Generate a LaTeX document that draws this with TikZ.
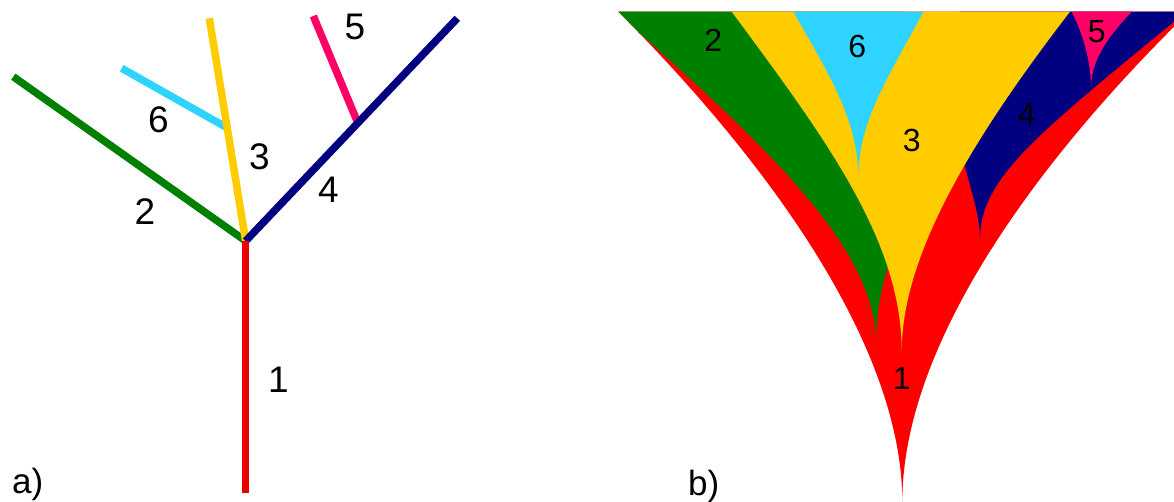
\documentclass[tikz,border=0pt]{standalone}
\usepackage{fontspec}
\setmainfont{Liberation Sans}
\usetikzlibrary{calc}
\definecolor{trunk}{RGB}{234,0,0}
\definecolor{br1}{RGB}{255,0,0}
\definecolor{br2}{RGB}{0,128,0}
\definecolor{br3}{RGB}{255,204,0}
\definecolor{br4}{RGB}{0,0,128}
\definecolor{br5}{RGB}{255,0,102}
\definecolor{br6}{RGB}{46,212,255}

\begin{document}
\begin{tikzpicture}[x=1pt, y=-1pt,
  branch/.style={line width=7.5pt},
  lbl/.style={inner sep=0pt, font=\fontsize{37}{40}\selectfont},
  zone/.style={inner sep=0pt, font=\fontsize{32}{36}\selectfont},
  panel/.style={inner sep=0pt, anchor=base west, font=\fontsize{35}{40}\selectfont}]
  \useasboundingbox (0,0) rectangle (1174,502);

  % a) the branching tree
  \coordinate (fork) at (245.7,241);
  \coordinate (base) at (245.7,493);
  \coordinate (tip2) at (13.3,76.7);
  \coordinate (tip3) at (209.3,18.3);
  \coordinate (tip4) at (457.3,18.3);
  \coordinate (tip5) at (313.3,16);
  \coordinate (tip6) at (121.7,68.3);
  \coordinate (on3) at ($(fork)!0.508!(tip3)$);
  \coordinate (on4) at ($(fork)!0.53!(tip4)$);
  \draw[branch, br6] (tip6) -- (on3);
  \draw[branch, br5] (tip5) -- (on4);
  \draw[branch, br2] (fork) -- (tip2);
  \draw[branch, br3] (fork) -- (tip3);
  \draw[branch, br4] (fork) -- (tip4);
  \draw[branch, trunk] (fork) -- (base);
  \node[lbl] (a1) at (278.3,380) {1};
  \node[lbl] (a2) at (145,211.7) {2};
  \node[lbl] (a3) at (259.3,156.7) {3};
  \node[lbl] (a4) at (328.3,190) {4};
  \node[lbl] (a5) at (355,26.7) {5};
  \node[lbl] (a6) at (158.3,120) {6};
  \node[panel] (pa) at (12,493.3) {a)};

  % b) the nested cusp regions
  \begin{scope}
    \clip (618.3,11.7) .. controls (778,172) and (902.3,352) .. (902.3,502)
      .. controls (902.3,352) and (1024,176.7) .. (1174,26.7)
      -- (1174,11.7) -- cycle;
    \fill[br1] (600,0) rectangle (1174,502);
    % 2
    \fill[br2] (600,0) -- (612,12) -- (641.7,35)
      .. controls (770,150) and (876,250) .. (876,342.7)
      .. controls (877,300) and (883,282) .. (896,240)
      -- (905,0) -- cycle;
    % 4
    \fill[br4] (960,0) -- (955,130) -- (963.3,160)
      .. controls (972,195) and (980,215) .. (980,240)
      .. controls (980,180) and (1030,140) .. (1174,21.7)
      -- (1190,8) -- (1190,0) -- cycle;
    % 3
    \fill[br3] (724,0) -- (731.7,11.7)
      .. controls (828,141.7) and (901.7,241.7) .. (901.7,351.7)
      .. controls (901.7,261.7) and (962,151.7) .. (1070,11.7)
      -- (1075,0) -- cycle;
    % 6
    \fill[br6] (786,0) -- (793.3,11.7)
      .. controls (827.5,71.7) and (858.3,120) .. (858.3,176.7)
      .. controls (858.3,120) and (891.5,71.7) .. (923.3,11.7)
      -- (929,0) -- cycle;
    % 5
    \fill[br5] (1066,0) -- (1071.7,11.7)
      .. controls (1082,32) and (1091,60) .. (1091,88.3)
      .. controls (1091,62) and (1105,40) .. (1131.7,11.7)
      -- (1141,0) -- cycle;
  \end{scope}
  \node[zone] (b1) at (901.7,378) {1};
  \node[zone] (b2) at (713.3,40) {2};
  \node[zone] (b3) at (911.7,140) {3};
  \node[zone] (b4) at (1026.7,114) {4};
  \node[zone] (b5) at (1096.7,31.7) {5};
  \node[zone] (b6) at (857.3,46.7) {6};
  \node[panel] (pb) at (688,495) {b)};
\end{tikzpicture}
\end{document}
